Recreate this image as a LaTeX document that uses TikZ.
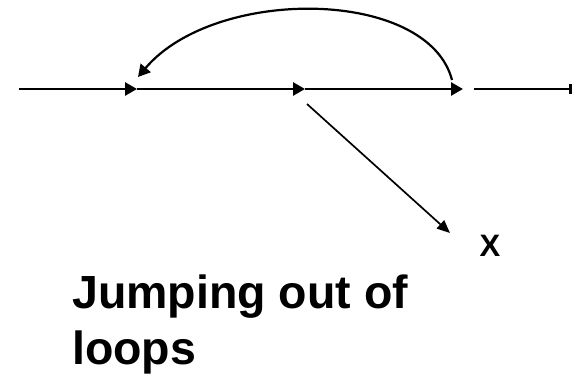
\documentclass[tikz,border=0pt]{standalone}
\usepackage{fontspec}
\setmainfont{Liberation Sans}
\usetikzlibrary{arrows.meta}

\begin{document}
\begin{tikzpicture}[x=1pt, y=-1pt, >={Triangle[length=12pt,width=13pt]}, line cap=butt]
\useasboundingbox (0,0) rectangle (573,378);
\tikzset{
  flow/.style={line width=2.7pt, ->},
  jumpback/.style={line width=2.2pt, ->},
  exitline/.style={line width=1.7pt, -{Triangle[length=13pt,width=11pt]}},
  bigtext/.style={font=\bfseries\fontsize{46.5}{56}\selectfont, inner sep=0pt, anchor=base west}
}
% ---------- straight line with the steps ----------
\coordinate (s0) at (19,89);
\coordinate (s1) at (137,89);
\coordinate (s2) at (305,89);
\coordinate (s3) at (463,89);
\coordinate (t0) at (474,89);
\coordinate (t1) at (572,89);
\draw[flow] (s0) -- (s1);
\draw[flow] (s1) -- (s2);
\draw[flow] (s2) -- (s3);
\draw[line width=2.7pt, -{Bar[width=10pt]}] (t0) -- (t1);
% ---------- jump back ----------
\coordinate (jb0) at (452,80);
\coordinate (jb1) at (138,77);
\draw[jumpback] (jb0) .. controls (428,-12) and (215,-14) .. (jb1);
% ---------- jump out ----------
\coordinate (jo0) at (307,104);
\node[font=\bfseries\fontsize{31}{36}\selectfont, inner sep=0pt, anchor=base] (xout) at (490,256) {X};
\coordinate (jo1) at (450,233);
\draw[exitline] (jo0) -- (jo1);
% ---------- caption ----------
\node[bigtext] (cap1) at (72,308) {Jumping out of};
\node[bigtext] (cap2) at (72,364) {loops};
\end{tikzpicture}
\end{document}
